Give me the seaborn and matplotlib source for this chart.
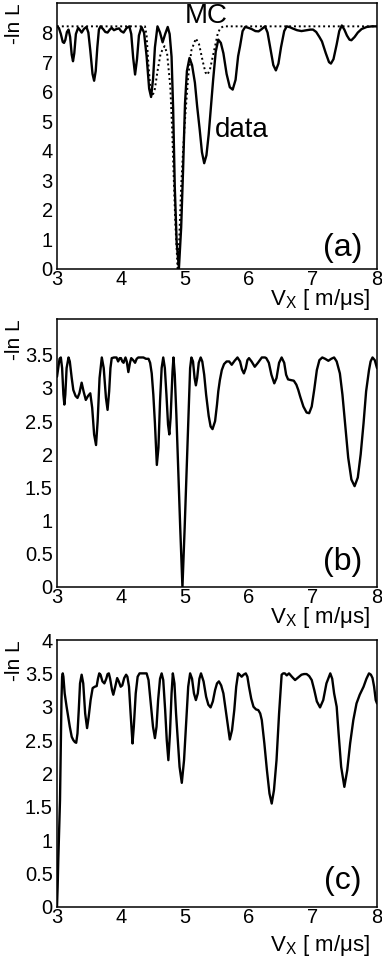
import numpy as np
import pandas as pd
import matplotlib
matplotlib.use("Agg")
import matplotlib.pyplot as plt
from matplotlib.ticker import MultipleLocator, FuncFormatter
import seaborn as sns

# ---------------- data ----------------
a_data_v = [3.00, 3.03, 3.06, 3.09, 3.11, 3.13, 3.155, 3.18, 3.205, 3.23, 3.25, 3.27, 3.295,
            3.33, 3.36, 3.385, 3.42, 3.46, 3.49, 3.52, 3.555, 3.58, 3.605, 3.63, 3.655, 3.68,
            3.72, 3.755, 3.79, 3.825, 3.855, 3.89, 3.93, 3.97, 4.00, 4.04, 4.085, 4.13, 4.16,
            4.19, 4.22, 4.25, 4.28, 4.32, 4.36, 4.40, 4.44, 4.47, 4.50, 4.53, 4.57, 4.61, 4.65,
            4.69, 4.73, 4.76, 4.79, 4.815, 4.84, 4.87, 4.905, 4.94, 4.97, 5.00, 5.03, 5.07,
            5.11, 5.155, 5.19, 5.23, 5.265, 5.30, 5.335, 5.37, 5.405, 5.44, 5.48, 5.52, 5.56,
            5.60, 5.65, 5.70, 5.745, 5.79, 5.83, 5.86, 5.90, 5.94, 5.99, 6.04, 6.10, 6.15, 6.20,
            6.25, 6.29, 6.34, 6.38, 6.42, 6.46, 6.50, 6.55, 6.59, 6.64, 6.68, 6.75, 6.82, 6.90,
            6.96, 7.00, 7.05, 7.10, 7.14, 7.20, 7.25, 7.28, 7.32, 7.37, 7.41, 7.45, 7.49, 7.53,
            7.57, 7.60, 7.65, 7.70, 7.76, 7.84, 7.92, 8.00]
a_data_l = [8.21, 8.15, 7.95, 7.68, 7.65, 7.75, 8.02, 8.10, 7.85, 7.25, 7.03, 7.30, 7.95,
            8.16, 8.08, 8.00, 8.12, 8.19, 8.00, 7.40, 6.60, 6.37, 6.70, 7.50, 8.10, 8.21,
            8.12, 8.02, 8.00, 8.10, 8.16, 8.08, 8.12, 8.14, 8.05, 8.00, 8.15, 8.21, 7.95,
            7.15, 6.58, 7.10, 7.90, 8.19, 8.00, 7.20, 6.10, 5.82, 6.40, 7.50, 8.21, 8.00, 7.67,
            7.95, 8.19, 7.95, 7.18, 5.40, 2.79, 0.90, 0.02, 1.40, 3.36, 5.60, 6.70, 7.14,
            6.90, 6.30, 5.50, 4.71, 3.95, 3.58, 3.85, 4.55, 5.50, 6.41, 7.35, 7.76, 7.65,
            7.30, 6.60, 6.15, 6.07, 6.40, 7.20, 7.54, 8.05, 8.19, 8.16, 8.12, 8.05, 8.04, 8.12,
            8.21, 8.00, 7.40, 6.90, 6.72, 6.95, 7.50, 8.05, 8.21, 8.18, 8.14, 8.08, 8.05, 8.08,
            8.10, 8.10, 8.02, 7.85, 7.70, 7.30, 7.00, 6.95, 7.10, 7.60, 8.05, 8.24, 8.10, 7.90,
            7.76, 7.74, 7.85, 8.00, 8.12, 8.19, 8.21, 8.21]

a_mc_v = [3.00, 4.375, 4.40, 4.43, 4.46, 4.49, 4.53, 4.57, 4.62, 4.68, 4.72, 4.77, 4.80,
          4.82, 4.85, 4.885, 4.91, 4.94, 4.97, 5.00, 5.05, 5.10, 5.17, 5.22, 5.28, 5.32,
          5.35, 5.39, 5.43, 5.47, 5.51, 5.55, 5.60, 8.00]
a_mc_l = [8.21, 8.21, 7.90, 6.86, 6.10, 5.84, 6.10, 6.69, 7.30, 7.54, 7.30, 6.18, 4.70,
          3.36, 1.50, 0.02, 1.00, 2.79, 4.00, 5.05, 6.52, 7.40, 7.80, 7.60, 7.00, 6.65,
          6.57, 6.75, 7.15, 7.54, 7.95, 8.15, 8.21, 8.21]

b_v = [3.00, 3.02, 3.04, 3.06, 3.08, 3.10, 3.115, 3.13, 3.15, 3.18, 3.20, 3.23, 3.255, 3.29,
       3.32, 3.35, 3.385, 3.415, 3.45, 3.485, 3.52, 3.55, 3.58, 3.61, 3.635, 3.665, 3.70,
       3.73, 3.765, 3.79, 3.815, 3.835, 3.855, 3.89, 3.93, 3.955, 3.98, 4.00, 4.02, 4.04,
       4.07, 4.09, 4.115, 4.14, 4.16, 4.19, 4.22, 4.245, 4.27, 4.31, 4.35, 4.39, 4.43, 4.455,
       4.48, 4.505, 4.53, 4.56, 4.585, 4.61, 4.635, 4.66, 4.685, 4.71, 4.735, 4.755, 4.775,
       4.79, 4.805, 4.82, 4.84, 4.865, 4.89, 4.925, 4.96, 4.995, 5.03, 5.06, 5.08, 5.10,
       5.125, 5.15, 5.17, 5.19, 5.215, 5.245, 5.27, 5.30, 5.33, 5.37, 5.40, 5.43, 5.47, 5.50,
       5.52, 5.545, 5.575, 5.61, 5.65, 5.69, 5.73, 5.775, 5.82, 5.86, 5.89, 5.92, 5.95, 5.975,
       6.00, 6.04, 6.09, 6.14, 6.20, 6.25, 6.27, 6.31, 6.35, 6.395, 6.43, 6.47, 6.51, 6.55,
       6.58, 6.61, 6.65, 6.70, 6.74, 6.77, 6.80, 6.85, 6.90, 6.94, 6.98, 7.02, 7.06, 7.10,
       7.145, 7.19, 7.24, 7.285, 7.33, 7.37, 7.42, 7.46, 7.50, 7.55, 7.60, 7.65, 7.70, 7.745,
       7.79, 7.83, 7.875, 7.90, 7.93, 7.965, 8.00]
b_l = [3.17, 3.30, 3.44, 3.46, 3.30, 2.90, 2.75, 2.90, 3.30, 3.46, 3.40, 3.15, 2.97, 2.88,
       2.85, 2.92, 3.08, 2.95, 2.82, 2.88, 2.92, 2.70, 2.30, 2.14, 2.50, 3.15, 3.46,
       3.30, 2.85, 2.67, 2.95, 3.30, 3.45, 3.46, 3.46, 3.40, 3.45, 3.45, 3.40, 3.38,
       3.46, 3.40, 3.24, 3.38, 3.45, 3.42, 3.38, 3.44, 3.46, 3.46, 3.46, 3.44, 3.44, 3.38,
       3.22, 2.90, 2.47, 1.84, 2.10, 2.80, 3.30, 3.46, 3.30, 2.90, 2.45, 2.30, 2.55,
       2.90, 3.25, 3.46, 3.20, 2.60, 1.90, 0.90, 0.00, 0.90, 1.90, 2.80, 3.30, 3.46,
       3.40, 3.15, 3.04, 3.15, 3.38, 3.46, 3.40, 3.20, 2.90, 2.58, 2.42, 2.38, 2.50, 2.75,
       2.95, 3.12, 3.27, 3.36, 3.40, 3.40, 3.35, 3.41, 3.46, 3.40, 3.28, 3.22, 3.30, 3.42,
       3.45, 3.40, 3.32, 3.38, 3.46, 3.46, 3.45, 3.38, 3.20, 3.07, 3.15, 3.38, 3.46, 3.38,
       3.20, 3.13, 3.12, 3.11, 3.05, 2.97, 2.87, 2.72, 2.63, 2.62, 2.72, 2.98, 3.27, 3.42,
       3.46, 3.44, 3.41, 3.44, 3.46, 3.40, 3.22, 2.90, 2.47, 1.95, 1.62, 1.52, 1.65, 2.00,
       2.47, 2.95, 3.27, 3.40, 3.46, 3.42, 3.30]

c_v = [3.00, 3.01, 3.02, 3.035, 3.047, 3.06, 3.07, 3.08, 3.09, 3.10, 3.12, 3.15, 3.175, 3.20,
       3.23, 3.255, 3.28, 3.30, 3.32, 3.34, 3.36, 3.385, 3.41, 3.44, 3.47, 3.495, 3.525,
       3.557, 3.59, 3.62, 3.64, 3.66, 3.68, 3.71, 3.74, 3.77, 3.79, 3.81, 3.83, 3.86, 3.88,
       3.91, 3.94, 3.965, 3.995, 4.02, 4.05, 4.08, 4.10, 4.125, 4.15, 4.18, 4.20, 4.23, 4.26,
       4.29, 4.345, 4.40, 4.43, 4.47, 4.50, 4.53, 4.555, 4.58, 4.61, 4.635, 4.66, 4.69,
       4.715, 4.74, 4.765, 4.79, 4.81, 4.835, 4.86, 4.88, 4.915, 4.95, 4.985, 5.02, 5.05,
       5.08, 5.11, 5.14, 5.17, 5.20, 5.225, 5.25, 5.29, 5.33, 5.365, 5.40, 5.435, 5.47, 5.50,
       5.53, 5.565, 5.60, 5.65, 5.70, 5.735, 5.77, 5.80, 5.83, 5.855, 5.885, 5.915, 5.95,
       5.975, 6.00, 6.035, 6.07, 6.11, 6.145, 6.175, 6.20, 6.24, 6.28, 6.32, 6.355, 6.39,
       6.43, 6.47, 6.51, 6.535, 6.56, 6.59, 6.625, 6.67, 6.72, 6.77, 6.82, 6.86, 6.90, 6.94,
       6.98, 7.02, 7.06, 7.11, 7.16, 7.21, 7.27, 7.30, 7.33, 7.37, 7.40, 7.44, 7.49, 7.535,
       7.58, 7.63, 7.68, 7.73, 7.79, 7.835, 7.875, 7.905, 7.93, 7.955, 7.98, 8.00]
c_l = [0.00, 0.30, 0.70, 1.20, 1.60, 2.40, 3.10, 3.45, 3.50, 3.45, 3.20, 3.00, 2.85, 2.70,
       2.55, 2.50, 2.47, 2.46, 2.60, 2.95, 3.35, 3.48, 3.35, 2.90, 2.68, 2.85, 3.10,
       3.28, 3.30, 3.31, 3.42, 3.50, 3.48, 3.38, 3.35, 3.42, 3.49, 3.50, 3.42, 3.25, 3.18,
       3.30, 3.43, 3.38, 3.30, 3.32, 3.43, 3.48, 3.45, 3.30, 2.90, 2.45, 2.70, 3.20, 3.45,
       3.50, 3.50, 3.50, 3.40, 3.00, 2.70, 2.53, 2.70, 3.10, 3.42, 3.50, 3.40, 2.95,
       2.50, 2.20, 2.60, 3.20, 3.50, 3.35, 2.90, 2.60, 2.10, 1.86, 2.20, 2.80, 3.30,
       3.50, 3.42, 3.20, 3.10, 3.20, 3.42, 3.50, 3.38, 3.15, 3.03, 2.99, 3.08, 3.25, 3.35,
       3.38, 3.32, 3.20, 2.85, 2.51, 2.65, 2.95, 3.30, 3.50, 3.48, 3.45, 3.48, 3.50,
       3.45, 3.30, 3.12, 3.00, 2.96, 2.95, 2.90, 2.80, 2.45, 2.05, 1.70, 1.55, 1.75,
       2.20, 2.90, 3.48, 3.50, 3.50, 3.47, 3.50, 3.45, 3.40, 3.44, 3.48, 3.49, 3.49, 3.46,
       3.40, 3.25, 3.08, 2.99, 3.10, 3.35, 3.50, 3.42, 3.20, 3.00, 2.60, 2.10, 1.80, 2.05,
       2.45, 2.80, 3.05, 3.18, 3.30, 3.42, 3.50, 3.48, 3.43, 3.30, 3.10, 3.05]

x_ticks = [3, 4, 5, 6, 7, 8]
panel_labels = ["(a)", "(b)", "(c)"]
ylabel = "-ln L"
xlabel = r"V$_{\mathregular{X}}$ [ m/μs]"

# ---------------- style ----------------
sns.set_theme(style="white")
plt.rcParams["font.family"] = ["Liberation Sans", "DejaVu Sans"]
plt.rcParams["mathtext.fontset"] = "custom"
plt.rcParams["mathtext.rm"] = "Liberation Sans"
plt.rcParams["mathtext.it"] = "Liberation Sans"
for k in ["text.color", "axes.labelcolor", "xtick.color", "ytick.color", "axes.edgecolor"]:
    plt.rcParams[k] = "black"

W, H = 382, 959
fig = plt.figure(figsize=(W / 100, H / 100), dpi=100)

# axes boxes in pixels: (top, bottom)
boxes = [(3, 269), (319, 587), (640, 907)]
ylims = [(0, 9.0), (0, 4.04), (0, 4.0)]
yticks = [np.arange(0, 8.01, 1), np.arange(0, 3.51, 0.5), np.arange(0, 4.01, 0.5)]
yminor = [0.25, 0.1, 0.1]
label_pos = [0.079, 0.093, 0.097]
xlabel_off = [31, 31, 38]

fmt = FuncFormatter(lambda v, p: "%g" % v)
TICK_FS = 14.5

axes = []
for i, (top, bot) in enumerate(boxes):
    ax = fig.add_axes([57 / W, 1 - bot / H, 320 / W, (bot - top) / H])
    axes.append(ax)

dfa = pd.DataFrame({"v": a_data_v, "l": a_data_l})
dfm = pd.DataFrame({"v": a_mc_v, "l": a_mc_l})
dfb = pd.DataFrame({"v": b_v, "l": b_l})
dfc = pd.DataFrame({"v": c_v, "l": c_l})

sns.lineplot(data=dfm, x="v", y="l", ax=axes[0], color="black", lw=1.4,
             linestyle=(0, (1, 1.5)), sort=False)
sns.lineplot(data=dfa, x="v", y="l", ax=axes[0], color="black", lw=1.7, sort=False)
sns.lineplot(data=dfb, x="v", y="l", ax=axes[1], color="black", lw=1.7, sort=False)
sns.lineplot(data=dfc, x="v", y="l", ax=axes[2], color="black", lw=1.7, sort=False)

for i, ax in enumerate(axes):
    top, bot = boxes[i]
    ax.set_xlim(3, 8)
    ax.set_ylim(*ylims[i])
    ax.set_xticks(x_ticks)
    ax.set_yticks(yticks[i])
    ax.xaxis.set_minor_locator(MultipleLocator(0.2))
    ax.yaxis.set_minor_locator(MultipleLocator(yminor[i]))
    ax.yaxis.set_major_formatter(fmt)
    ax.tick_params(which="both", direction="in", top=False, right=False,
                   labelsize=TICK_FS, colors="black", width=0.8)
    ax.tick_params(which="major", length=6)
    ax.tick_params(axis="x", which="major", pad=1)
    ax.tick_params(axis="y", which="major", pad=3)
    ax.tick_params(which="minor", length=3)
    ax.set_xlabel("")
    ax.set_ylabel("")
    for s in ax.spines.values():
        s.set_visible(True)
        s.set_color("black")
        s.set_linewidth(1.1)
    ax.text(0.953, label_pos[i], panel_labels[i], transform=ax.transAxes,
            ha="right", va="center", fontsize=23)
    hpx = bot - top
    ax.text(0.978, -xlabel_off[i] / hpx, xlabel, transform=ax.transAxes,
            ha="right", va="center", fontsize=16)
    fig.text(15 / W, 1 - (top + 21) / H, ylabel, rotation=90, ha="center",
             va="center", fontsize=15)

axes[0].text(5.33, 8.55, "MC", ha="center", va="center", fontsize=20)
axes[0].text(5.88, 4.71, "data", ha="center", va="center", fontsize=20)

fig.savefig("out.png", dpi=100)
